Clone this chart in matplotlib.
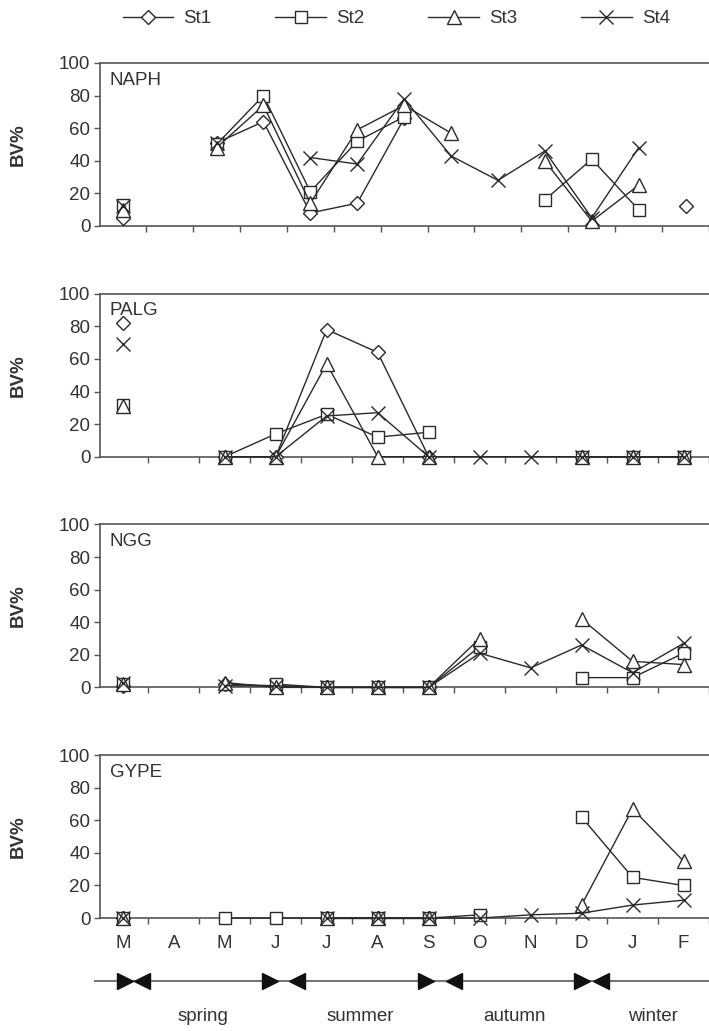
import numpy as np
import matplotlib
matplotlib.use('Agg')
import matplotlib.pyplot as plt

plt.rcParams['font.family'] = ['Liberation Sans', 'DejaVu Sans']

nan = np.nan

months = ['M', 'A', 'M', 'J', 'J', 'A', 'S', 'O', 'N', 'D', 'J', 'F']
stations = ['St1', 'St2', 'St3', 'St4']
panel_names = ['NAPH', 'PALG', 'NGG', 'GYPE']

# sampling slots (month index, NAPH runs one month longer); April not sampled
naph_x = [0, 1, 2, 3, 4, 5, 6, 7, 8, 9, 10, 11, 12]
naph_st1 = [5, nan, 51, 64, 8, 14, 66, nan, nan, nan, nan, nan, 12]
naph_st2 = [13, nan, 50, 80, 21, 52, 67, nan, nan, 16, 41, 10, nan]
naph_st3 = [10, nan, 48, 74, 14, 59, 74, 57, nan, 40, 3, 25, nan]
naph_st4 = [12, nan, 51, nan, 42, 38, 78, 43, 28, 46, 5, 48, nan]

palg_x = [0, 1, 2, 3, 4, 5, 6, 7, 8, 9, 10, 11]
palg_st1 = [82, nan, 0, 0, 78, 64, 0, nan, nan, 0, 0, 0]
palg_st2 = [32, nan, 0, 14, 26, 12, 15, nan, nan, 0, 0, 0]
palg_st3 = [31, nan, 0, 0, 57, 0, 0, nan, nan, 0, 0, 0]
palg_st4 = [69, nan, 0, 0, 25, 27, 0, 0, 0, 0, 0, 0]

ngg_x = [0, 1, 2, 3, 4, 5, 6, 7, 8, 9, 10, 11]
ngg_st1 = [1, nan, 2, 1, 0, 0, 0, nan, nan, nan, nan, nan]
ngg_st2 = [2, nan, nan, 2, 0, 0, 0, 25, nan, 6, 6, 21]
ngg_st3 = [2, nan, 3, 0, 0, 0, 0, 30, nan, 42, 16, 14]
ngg_st4 = [3, nan, 1, 1, 0, 0, 0, 21, 12, 26, 9, 27]

gype_x = [0, 1, 2, 3, 4, 5, 6, 7, 8, 9, 10, 11]
gype_st1 = [0, nan, nan, nan, 0, 0, 0, nan, nan, nan, nan, nan]
gype_st2 = [0, nan, 0, 0, 0, 0, 0, 2, nan, 62, 25, 20]
gype_st3 = [0, nan, nan, nan, 0, 0, 0, nan, nan, 8, 67, 35]
gype_st4 = [0, nan, nan, nan, 0, 0, 0, 0, 2, 3, 8, 11]

seasons = ['spring', 'summer', 'autumn', 'winter']
season_pos = [1.55, 4.6, 7.6, 10.3]
season_end = [0.04, 2.86, 5.88, 8.92]     # right-pointing triangles
season_start = [0.36, 3.38, 6.42, 9.29]   # left-pointing triangles

panels = [
    (naph_x, [naph_st1, naph_st2, naph_st3, naph_st4], 47.5),
    (palg_x, [palg_st1, palg_st2, palg_st3, palg_st4], 51.5),
    (ngg_x, [ngg_st1, ngg_st2, ngg_st3, ngg_st4], 51.5),
    (gype_x, [gype_st1, gype_st2, gype_st3, gype_st4], 51.5),
]

W, H = 709, 1031
fig = plt.figure(figsize=(W / 100, H / 100), dpi=100)

def box(left, top, right, bottom):
    return [left / W, 1 - bottom / H, (right - left) / W, (bottom - top) / H]

def xl(left, right, step, x0=123):
    return ((left - x0) / step, (right - x0) / step)

line_c = '#2a2a2a'
axis_c = '#555555'
text_c = '#333333'
fs = 13.5
msize = {'D': 7.5, 's': 9, '^': 9.5, 'x': 9.5}
markers = ['D', 's', '^', 'x']

handles = []
for i, (xs, series, step) in enumerate(panels):
    top = 63 + 230.7 * i
    ax = fig.add_axes(box(100, top, 709, top + 163))
    for j, ys in enumerate(series):
        m = markers[j]
        h, = ax.plot(xs, ys, color=line_c, lw=1.0, marker=m, mfc='white',
                     mec=line_c, mew=1.0, ms=msize[m], clip_on=False,
                     zorder=3, label=stations[j])
        if i == 0:
            handles.append(h)
    ax.set_xlim(*xl(100, 709, step))
    ax.set_ylim(0, 100)
    ax.set_yticks(range(0, 101, 20))
    nslots = 13 if step < 50 else 12
    ax.set_xticks([k + 0.5 for k in range(nslots)])
    ax.set_xticklabels([])
    ax.tick_params(axis='both', direction='out', length=4, width=1,
                   color=axis_c, labelsize=fs, labelcolor=text_c)
    ax.tick_params(axis='y', pad=3)
    for s in ['left', 'bottom', 'top']:
        ax.spines[s].set_color(axis_c)
        ax.spines[s].set_linewidth(1.2)
    ax.spines['right'].set_visible(False)
    ax.text(0.016, 0.895, panel_names[i], transform=ax.transAxes,
            fontsize=fs, color=text_c, va='center', ha='left')
    ax.set_ylabel('BV%', fontsize=fs, fontweight='bold', color=text_c)
    ax.yaxis.set_label_coords(-73 / 609, 0.5)
    if i == 3:
        ax.set_xticks(range(12), minor=True)
        ax.set_xticklabels(months, minor=True)
        ax.tick_params(axis='x', which='minor', length=0, pad=12,
                       labelsize=fs, labelcolor=text_c)

# season bar
axs = fig.add_axes(box(94, 955, 709, 1031))
axs.set_xlim(*xl(94, 709, 51.5))
axs.set_ylim(0, 1)
axs.axis('off')
axs.axhline(0.66, color='#777777', lw=1.5, zorder=1)
axs.plot(season_end, [0.66] * 4, ls='none', marker='>', ms=12,
         color='#111111', zorder=2)
axs.plot(season_start, [0.66] * 4, ls='none', marker='<', ms=12,
         color='#111111', zorder=2)
for name, p in zip(seasons, season_pos):
    axs.text(p, 0.19, name, ha='center', va='center', fontsize=fs, color=text_c)

fig.legend(handles=handles, loc='center', bbox_to_anchor=(0.559, 0.982),
           ncol=4, frameon=False, fontsize=fs, handlelength=2.7,
           columnspacing=3.4, handletextpad=0.55, labelcolor=text_c)

fig.savefig('out.png', dpi=100, facecolor='white')
